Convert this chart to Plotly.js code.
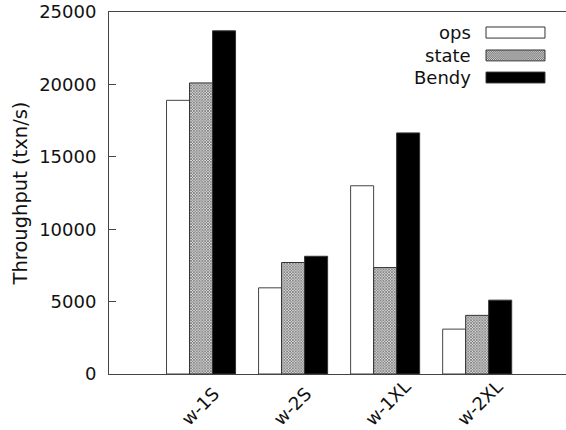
<!DOCTYPE html>
<html>
<head>
<meta charset="utf-8">
<script src="https://cdn.plot.ly/plotly-3.0.1.min.js"></script>
<style>html,body{margin:0;padding:0;background:#fff;overflow:hidden}</style>
</head>
<body>
<div id="chart" style="width:566px;height:430px"></div>
<script>
const categories = ['w-1S', 'w-2S', 'w-1XL', 'w-2XL'];
const seriesNames = ['ops', 'state', 'Bendy'];
const opsValues = [18900, 5950, 13000, 3100];
const stateValues = [20100, 7700, 7350, 4050];
const bendyValues = [23700, 8130, 16650, 5100];
const yTickValues = [0, 5000, 10000, 15000, 20000, 25000];

const FONT = 'DejaVu Sans, sans-serif';
const traces = [
  {type: 'bar', name: seriesNames[0], x: categories, y: opsValues,
   marker: {color: '#ffffff', line: {color: '#444', width: 1}}},
  {type: 'bar', name: seriesNames[1], x: categories, y: stateValues,
   marker: {color: '#ffffff', line: {color: '#333', width: 1},
            pattern: {shape: 'x', size: 2, solidity: 0.5, fgcolor: '#555', bgcolor: '#dcdcdc'}}},
  {type: 'bar', name: seriesNames[2], x: categories, y: bendyValues,
   marker: {color: '#000000', line: {color: '#333', width: 1}}}
];

// checker pattern for the "state" legend swatch
const checkerSvg = "<svg xmlns='http://www.w3.org/2000/svg' width='60' height='12'>" +
  "<defs><pattern id='p' width='2' height='2' patternUnits='userSpaceOnUse'>" +
  "<rect width='2' height='2' fill='#dcdcdc'/><rect width='1' height='1' fill='#666'/>" +
  "<rect x='1' y='1' width='1' height='1' fill='#666'/></pattern></defs>" +
  "<rect width='60' height='12' fill='url(#p)'/></svg>";
const checkerUri = 'data:image/svg+xml;charset=utf-8,' + encodeURIComponent(checkerSvg);

// custom legend: text right-aligned, swatch on the right
const legendY = [[0.942, 0.9586, 0.928], [0.880, 0.895, 0.865], [0.819, 0.834, 0.804]];
const swatchFill = ['#ffffff', 'rgba(0,0,0,0)', '#000000'];
const shapes = [];
const annotations = [];
const images = [{source: checkerUri, xref: 'paper', yref: 'paper', x: 0.825, y: legendY[1][1],
  sizex: 0.954 - 0.825, sizey: legendY[1][1] - legendY[1][2], sizing: 'stretch',
  xanchor: 'left', yanchor: 'top', layer: 'above'}];
seriesNames.forEach((n, i) => {
  annotations.push({xref: 'paper', yref: 'paper', x: 0.7965, y: legendY[i][0],
    xanchor: 'right', yanchor: 'middle', text: n, showarrow: false,
    font: {family: FONT, size: 18, color: '#111'}});
  shapes.push({type: 'rect', xref: 'paper', yref: 'paper', x0: 0.825, x1: 0.954,
    y0: legendY[i][2], y1: legendY[i][1], fillcolor: swatchFill[i],
    line: {color: '#333', width: 1}, layer: 'above'});
});

// x category labels, rotated 45 degrees and anchored at their start
categories.forEach((c) => {
  annotations.push({xref: 'x', yref: 'paper', x: c, y: -0.160,
    xanchor: 'left', yanchor: 'bottom', xshift: -27, textangle: -45,
    text: c, showarrow: false, font: {family: FONT, size: 18, color: '#111'}});
});

const layout = {
  width: 566, height: 430,
  margin: {l: 109, r: 0, t: 12, b: 56},
  paper_bgcolor: '#fff', plot_bgcolor: '#fff',
  barmode: 'group', bargap: 0.25, bargroupgap: 0,
  showlegend: false,
  font: {family: FONT, size: 18, color: '#111'},
  xaxis: {type: 'category', categoryarray: categories, range: [-1, 3.965],
    showline: true, linecolor: '#444', linewidth: 1, mirror: true,
    showgrid: false, zeroline: false, ticks: '', showticklabels: false},
  yaxis: {range: [0, 25000], tickvals: yTickValues, ticktext: yTickValues.map(String),
    showline: true, linecolor: '#444', linewidth: 1, showgrid: false, zeroline: false,
    ticks: 'inside', ticklen: 7, tickcolor: '#444', ticklabelstandoff: 8,
    tickfont: {family: FONT, size: 18, color: '#111'},
    title: {text: 'Throughput (txn/s)', standoff: 6, font: {family: FONT, size: 19.5, color: '#111'}}},
  shapes: shapes,
  images: images,
  annotations: annotations
};

Plotly.newPlot('chart', traces, layout, {displayModeBar: false, staticPlot: true});
</script>
</body>
</html>
